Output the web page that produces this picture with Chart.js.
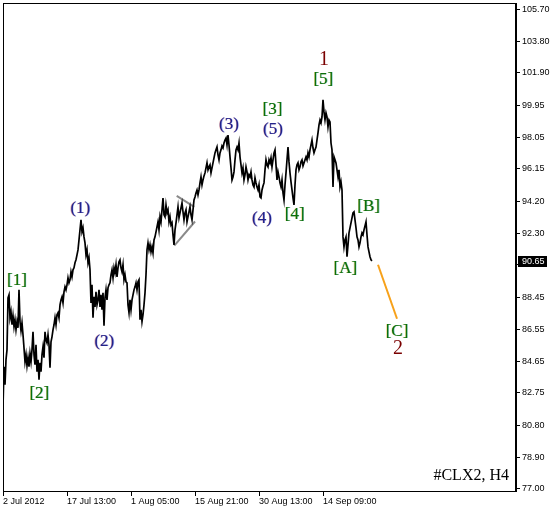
<!DOCTYPE html>
<html>
<head>
<meta charset="utf-8">
<script src="https://cdn.jsdelivr.net/npm/chart.js@4/dist/chart.umd.min.js"></script>
<style>
  html, body { margin: 0; padding: 0; background: #fff; }
  #wrap { width: 556px; height: 510px; }
</style>
</head>
<body>
<div id="wrap"><canvas id="chart" width="556" height="510"></canvas></div>
<script>
// H4 closes, one per bar (bar 0 = 2 Jul 2012)
const closes = [
  81.91, 84.31, 83.23, 84.73, 85.32, 88.43, 88.61, 87.24, 87.60, 86.82,
  87.36, 86.70, 87.12, 86.52, 87.00, 86.64, 88.91, 87.00, 86.46, 86.94,
  86.22, 85.44, 84.61, 85.03, 84.37, 84.85, 84.31, 85.09, 84.61, 85.32,
  86.40, 85.03, 84.43, 85.62, 84.01, 84.73, 83.53, 84.55, 84.01, 85.03,
  85.50, 84.85, 86.40, 85.92, 85.74, 86.22, 85.62, 84.25, 85.80, 86.10,
  86.52, 86.82, 87.24, 86.82, 87.42, 87.54, 87.24, 88.01, 88.31, 88.49,
  88.13, 88.79, 89.09, 88.91, 89.21, 89.63, 89.33, 89.51, 89.99, 89.69,
  90.11, 90.23, 90.53, 90.71, 91.00, 91.30, 91.90, 92.50, 93.10, 92.38,
  92.62, 92.08, 91.72, 91.00, 91.30, 90.53, 90.83, 90.11, 88.13, 89.21,
  87.24, 88.49, 87.89, 88.79, 88.01, 88.31, 88.91, 87.89, 88.61, 87.72,
  88.73, 86.76, 88.43, 88.91, 88.31, 89.03, 89.21, 89.33, 89.81, 90.11,
  89.63, 90.23, 89.93, 90.41, 89.69, 90.23, 90.59, 90.71, 90.23, 89.99,
  90.41, 89.51, 89.81, 89.39, 89.33, 88.01, 87.54, 88.31, 87.72, 88.31,
  88.61, 88.91, 89.09, 89.33, 88.91, 89.39, 89.51, 87.12, 87.72, 87.00,
  87.42, 88.01, 88.73, 89.81, 91.30, 91.72, 91.30, 91.60, 91.18, 91.48,
  91.12, 91.90, 92.08, 92.38, 92.68, 92.98, 92.50, 93.28, 92.98, 93.70,
  94.41, 93.40, 93.28, 93.99, 93.52, 93.70, 92.98, 93.28, 92.80, 92.92,
  92.20, 91.60, 92.50, 92.92, 93.40, 93.88, 93.22, 93.52, 93.82, 94.11,
  93.58, 93.10, 93.52, 93.70, 92.98, 93.28, 93.58, 93.88, 93.40, 93.10,
  93.70, 94.29, 94.47, 94.71, 94.89, 94.59, 94.89, 95.31, 95.67, 95.19,
  95.49, 95.73, 95.91, 96.21, 96.51, 96.09, 96.27, 96.39, 95.91, 96.21,
  96.51, 96.81, 97.11, 97.29, 97.46, 96.99, 96.69, 97.11, 97.29, 97.52,
  97.40, 97.70, 97.88, 98.00, 97.58, 98.18, 97.58, 96.87, 96.21, 95.49,
  95.67, 95.97, 96.69, 97.29, 97.46, 97.29, 97.70, 96.87, 96.39, 95.91,
  96.21, 95.49, 95.79, 96.27, 95.97, 95.49, 95.79, 95.67, 95.97, 95.49,
  95.19, 95.07, 95.61, 95.31, 95.07, 94.89, 95.19, 94.47, 94.41, 94.89,
  95.13, 95.31, 96.09, 96.69, 96.39, 96.27, 96.69, 96.51, 96.81, 96.27,
  96.69, 97.11, 97.29, 96.39, 95.49, 95.97, 95.67, 95.31, 95.07, 95.49,
  94.71, 94.29, 95.19, 95.91, 96.69, 97.46, 96.57, 95.91, 95.37, 94.89,
  94.41, 93.99, 95.19, 96.09, 96.39, 96.51, 96.09, 96.27, 96.57, 96.69,
  96.33, 96.51, 96.69, 96.87, 96.69, 97.11, 96.87, 97.29, 97.58, 97.88,
  97.40, 97.11, 97.29, 97.46, 97.88, 98.30, 98.78, 99.08, 98.90, 99.26,
  100.28, 99.56, 99.08, 99.50, 99.26, 98.66, 99.08, 98.96, 97.70, 97.29,
  95.07, 96.87, 96.69, 96.51, 96.09, 95.67, 96.09, 95.07, 95.37, 94.89,
  92.08, 91.48, 91.90, 92.08, 90.89, 91.60, 92.32, 92.62, 92.92, 93.22,
  93.52, 93.58, 93.10, 92.62, 92.08, 91.90, 91.48, 91.72, 92.08, 92.32,
  92.20, 92.50, 92.74, 92.98, 92.20, 91.48, 91.18, 90.89, 90.71, 90.65
];

const xTickBars = [0, 64, 128, 192, 256, 320];
const xTickLabels = ['2 Jul 2012', '17 Jul 13:00', '1 Aug 05:00', '15 Aug 21:00', '30 Aug 13:00', '14 Sep 09:00'];
const yTicks = [105.70, 103.80, 101.90, 99.95, 98.05, 96.15, 94.20, 92.30, 90.40, 88.45, 86.55, 84.65, 82.75, 80.80, 78.90, 77.00];

// forecast leg [C] and the small triangle
const forecastBars = [375, 394];
const forecastPrices = [90.41, 87.18];
const triTopBars = [173.7, 191.3];
const triTopPrices = [94.53, 93.88];
const triLowBars = [171.3, 192];
const triLowPrices = [91.56, 93.00];

// wave marks: text, bar, price, kind
const waveText   = ['[1]', '[2]', '(1)', '(2)', '(3)', '[3]', '(5)', '(4)', '[4]', '[5]', '1', '[B]', '[A]', '[C]', '2'];
const waveBars   = [14, 36.3, 77.3, 101.3, 226, 269.5, 270, 259, 291.7, 320.3, 321, 365.7, 342.3, 394, 395];
const wavePrices = [89.48, 82.70, 93.76, 85.84, 98.78, 99.71, 98.48, 93.16, 93.40, 101.49, 102.69, 93.88, 90.19, 86.42, 85.40];
const waveKind   = ['sq', 'sq', 'pa', 'pa', 'pa', 'sq', 'pa', 'pa', 'sq', 'sq', 'big', 'sq', 'sq', 'sq', 'big'];

const symbolText = '#CLX2, H4';
const lastPrice = closes[closes.length - 1];

const tickFont = { family: 'Liberation Sans', size: 9 };

function pairs(xs, ys) {
  return xs.map((x, i) => ({ x: x, y: ys[i] }));
}

// text with a faint coloured fringe each side, like the terminal's cleartype
function fringeText(ctx, t, x, y, left, right, main) {
  ctx.globalAlpha = 0.45;
  ctx.fillStyle = left; ctx.fillText(t, x - 0.6, y);
  ctx.fillStyle = right; ctx.fillText(t, x + 0.6, y);
  ctx.globalAlpha = 1;
  ctx.fillStyle = main; ctx.fillText(t, x, y);
}

const frameAndMarks = {
  id: 'frameAndMarks',
  afterDatasetsDraw(chart) {
    const ctx = chart.ctx;
    const xs = chart.scales.x, ys = chart.scales.y;
    ctx.save();
    ctx.textAlign = 'center';
    ctx.textBaseline = 'middle';
    waveText.forEach((t, i) => {
      const px = xs.getPixelForValue(waveBars[i]);
      const py = ys.getPixelForValue(wavePrices[i]);
      const k = waveKind[i];
      if (k === 'sq') {
        ctx.font = '17px "Liberation Serif"';
        fringeText(ctx, t, px, py, '#d4a400', '#009090', '#0b6e0b');
      } else if (k === 'pa') {
        ctx.font = '17px "Liberation Serif"';
        fringeText(ctx, t, px, py, '#c04040', '#3050e0', '#22228a');
      } else {
        ctx.font = '20px "Liberation Serif"';
        ctx.fillStyle = '#7a0000';
        ctx.fillText(t, px, py);
      }
    });
    ctx.restore();
  },
  afterDraw(chart) {
    const ctx = chart.ctx;
    const a = chart.chartArea;
    const ys = chart.scales.y;
    ctx.save();
    ctx.strokeStyle = '#000';
    ctx.lineWidth = 1;
    ctx.strokeRect(a.left + 0.5, a.top + 0.5, a.right - a.left - 1, a.bottom - a.top);
    // symbol caption
    ctx.font = '16px "Liberation Serif"';
    ctx.fillStyle = '#000';
    ctx.textAlign = 'right';
    ctx.textBaseline = 'alphabetic';
    ctx.fillText(symbolText, a.right - 7, a.bottom - 11);
    // current price box
    const py = Math.round(ys.getPixelForValue(lastPrice));
    ctx.fillStyle = '#000';
    ctx.fillRect(ys.left + 2, py - 5, 29, 11);
    ctx.fillStyle = '#fff';
    ctx.font = '9px "Liberation Sans"';
    ctx.textAlign = 'left';
    ctx.textBaseline = 'middle';
    ctx.fillText(lastPrice.toFixed(2), ys.left + 6, py + 0.5);
    ctx.restore();
  }
};

new Chart(document.getElementById('chart'), {
  type: 'line',
  data: {
    datasets: [
      {
        data: closes.map((v, i) => ({ x: i, y: v })),
        borderColor: '#000',
        borderWidth: 1.7,
        pointRadius: 0,
        tension: 0
      },
      {
        data: pairs(forecastBars, forecastPrices),
        borderColor: '#f7a11a',
        borderWidth: 2,
        pointRadius: 0
      },
      {
        data: pairs(triTopBars, triTopPrices),
        borderColor: '#8a8a8a',
        borderWidth: 2,
        pointRadius: 0
      },
      {
        data: pairs(triLowBars, triLowPrices),
        borderColor: '#8a8a8a',
        borderWidth: 2,
        pointRadius: 0
      }
    ]
  },
  options: {
    responsive: false,
    animation: false,
    events: [],
    layout: { padding: { left: 3, top: 3, right: 0, bottom: 0 } },
    plugins: { legend: { display: false }, tooltip: { enabled: false } },
    scales: {
      x: {
        type: 'linear',
        position: 'bottom',
        min: 0,
        max: 513,
        afterBuildTicks: s => { s.ticks = xTickBars.map(v => ({ value: v })); },
        afterFit: s => { s.height = 19; s.paddingLeft = 0; s.paddingRight = 0; },
        grid: { drawOnChartArea: false, drawTicks: true, tickLength: 5, color: '#000' },
        border: { display: true, color: '#000' },
        ticks: {
          align: 'start',
          autoSkip: false,
          maxRotation: 0,
          padding: 0,
          color: '#000',
          font: tickFont,
          callback: v => xTickLabels[xTickBars.indexOf(v)]
        }
      },
      y: {
        position: 'right',
        min: 76.87,
        max: 106.08,
        afterBuildTicks: s => { s.ticks = yTicks.map(v => ({ value: v })); },
        afterFit: s => { s.width = 40; s.paddingTop = 0; s.paddingBottom = 0; },
        grid: { drawOnChartArea: false, drawTicks: true, tickLength: 4, color: '#000' },
        border: { display: true, color: '#000' },
        ticks: {
          padding: 2,
          color: '#000',
          font: tickFont,
          callback: v => v.toFixed(2)
        }
      }
    }
  },
  plugins: [frameAndMarks]
});
</script>
</body>
</html>
